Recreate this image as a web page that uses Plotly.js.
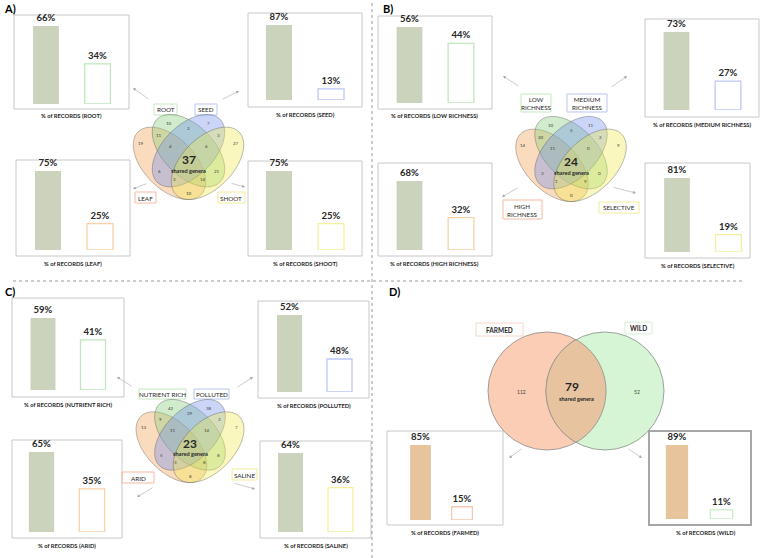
<!DOCTYPE html>
<html>
<head>
<meta charset="utf-8">
<script src="https://cdn.plot.ly/plotly-3.0.1.min.js"></script>
<style>
  html, body { margin: 0; padding: 0; background: #fff; }
  #chart { width: 760px; height: 558px; }
</style>
</head>
<body>
<div id="chart"></div>
<script>
// ---- data ----
const tissueSets = ['ROOT', 'SEED', 'LEAF', 'SHOOT'];
const tissueShares = [[66, 34], [87, 13], [75, 25], [75, 25]];
const tissueCounts = [10, 7, 2, 11, 3, 19, 27, 4, 6, 37, 6, 21, 2, 14, 10];

const richnessSets = ['LOW RICHNESS', 'MEDIUM RICHNESS', 'HIGH RICHNESS', 'SELECTIVE'];
const richnessShares = [[56, 44], [73, 27], [68, 32], [81, 19]];
const richnessCounts = [10, 11, 5, 20, 2, 14, 9, 11, 0, 24, 3, 0, 1, 9, 0];

const soilSets = ['NUTRIENT RICH', 'POLLUTED', 'ARID', 'SALINE'];
const soilShares = [[59, 41], [52, 48], [65, 35], [64, 36]];
const soilCounts = [42, 38, 29, 9, 3, 13, 7, 11, 14, 23, 5, 8, 3, 8, 8];

const originSets = ['FARMED', 'WILD'];
const originShares = [[85, 15], [89, 11]];
const originCounts = [112, 79, 52]; // farmed only, shared, wild only

// ---- page geometry (pixels) ----
const W = 760, H = 558;
const FONT = 'Lato, "Open Sans", sans-serif';
const px = x => x / W;
const py = y => 1 - y / H;

const setColors = ['#c3e8c0', '#b9c7f3', '#f4b9a3', '#f3ec98'];
const barEdges = ['#bfe8bd', '#bcc8f5', '#f9d1a8', '#f6f09c'];
const vennFills = ['rgba(135,205,120,0.38)', 'rgba(115,145,235,0.38)', 'rgba(243,160,85,0.38)', 'rgba(240,235,85,0.38)'];
const greyFill = 'rgb(204,211,189)';
const tanFill = 'rgb(232,196,156)';

// four-ellipse venn, offsets in venn units (screen y down)
const ellipses = [
  { dx: 0, dy: -0.05, rot: 45 },
  { dx: 0, dy: -0.05, rot: -45 },
  { dx: -0.15, dy: 0.05, rot: 45 },
  { dx: 0.15, dy: 0.05, rot: -45 }
];
const drawOrder = [2, 0, 1, 3];
const regionSpots = [
  [-0.155, -0.265], [0.155, -0.265], [0, -0.225], [-0.235, -0.172], [0.235, -0.172],
  [-0.375, -0.106], [0.375, -0.106], [-0.14, -0.082], [0.14, -0.082], [0, 0.02],
  [-0.228, 0.114], [0.228, 0.114], [-0.114, 0.176], [0.114, 0.176], [0, 0.286]
];

const panels = [
  { letter: 'A)', at: [2, 9], sets: tissueSets, shares: tissueShares, counts: tissueCounts,
    venn: [188.5, 157, 127],
    charts: [
      { box: [14, 15, 129, 109], bars: [46, 97.5], bottom: 104, top: 26 },
      { box: [248, 13, 362, 107], bars: [279, 331], bottom: 100, top: 25 },
      { box: [16, 160, 130, 256], bars: [48, 100], bottom: 250, top: 171 },
      { box: [248, 161, 362, 256], bars: [279, 331], bottom: 250, top: 171 }
    ],
    tags: [[154, 104, 177, 115], [195, 104, 217, 115], [135, 192, 156, 203], [218, 192, 245, 203]],
    arrows: [[150, 100, 133, 88], [221, 100, 239, 91], [148, 183, 133, 189], [230, 183, 245, 187]] },
  { letter: 'B)', at: [381, 9], sets: richnessSets, shares: richnessShares, counts: richnessCounts,
    venn: [571, 159, 127],
    charts: [
      { box: [378, 16, 492, 109], bars: [409.5, 461], bottom: 103, top: 27 },
      { box: [645, 19, 759, 117], bars: [676.5, 728], bottom: 110, top: 32 },
      { box: [378, 163, 492, 256], bars: [409.5, 461], bottom: 250, top: 181 },
      { box: [645, 163, 750, 258], bars: [677, 728.5], bottom: 252, top: 178 }
    ],
    tags: [[521, 94, 551, 112], [567, 94, 607, 112], [503, 200, 542, 219], [599, 202, 639, 213]],
    arrows: [[520, 87, 503, 76], [610, 88, 627, 76], [519, 187, 502, 197], [612, 187, 636, 193]] },
  { letter: 'C)', at: [3, 291], sets: soilSets, shares: soilShares, counts: soilCounts,
    venn: [190, 441, 124],
    charts: [
      { box: [12, 298, 124, 397], bars: [43, 93], bottom: 390, top: 318 },
      { box: [258, 301, 369, 398], bars: [289.5, 339.5], bottom: 392, top: 315, ymin: 45 },
      { box: [12, 440, 122, 538], bars: [41.5, 92], bottom: 532, top: 452 },
      { box: [260, 441, 371, 538], bars: [290.5, 340.5], bottom: 532, top: 453 }
    ],
    tags: [[139, 389, 186, 399], [194, 389, 229, 399], [122, 472, 154, 483], [232, 469, 257, 480]],
    arrows: [[133, 387, 117, 377], [236, 388, 253, 377], [154, 487, 137, 497], [233, 483, 255, 489]] }
];

const originCharts = [
  { box: [387, 431, 503, 525], bars: [420.5, 462], bottom: 520, top: 445 },
  { box: [649, 431, 751, 525], bars: [677, 721.5], bottom: 519, top: 445, heavy: true }
];
const originTags = [[476, 323, 523, 336], [625, 322, 652, 334]];
const originArrows = [[523, 448, 509, 458], [627, 448, 642, 458]];
const originEdges = ['#f9c6b0', '#c8eec8'];
const originTagColors = ['#f8d6c8', '#d3efd3'];
const circles = [[547, 391], [605, 391]];
const circleR = 59;

const traces = [];
const shapes = [];
const annotations = [];
const layout = {
  width: W, height: H,
  margin: { l: 0, r: 0, t: 0, b: 0 },
  paper_bgcolor: '#ffffff',
  plot_bgcolor: 'rgba(0,0,0,0)',
  showlegend: false,
  font: { family: FONT, color: '#262626' }
};

function text(x, y, s, size, extra) {
  annotations.push(Object.assign({
    xref: 'paper', yref: 'paper', x: px(x), y: py(y), text: s, showarrow: false,
    xanchor: 'center', yanchor: 'middle', font: { family: FONT, size: size, color: '#262626' }
  }, extra || {}));
}

function arrow(a) {
  annotations.push({
    xref: 'paper', yref: 'paper', x: px(a[2]), y: py(a[3]), text: '',
    showarrow: true, ax: a[0] - a[2], ay: a[1] - a[3], axref: 'pixel', ayref: 'pixel',
    arrowhead: 2, arrowsize: 1, arrowwidth: 0.6, arrowcolor: '#a8a8a8', standoff: 0
  });
}

function rect(b, color, width) {
  shapes.push({ type: 'rect', xref: 'paper', yref: 'paper', layer: 'below',
    x0: px(b[0]), x1: px(b[2]), y0: py(b[3]), y1: py(b[1]),
    line: { color: color, width: width }, fillcolor: 'rgba(0,0,0,0)' });
}

function tag(b, label, color) {
  rect(b, color, 1);
  text((b[0] + b[2]) / 2, (b[1] + b[3]) / 2 + 0.5, label, 6.3);
}

let axisN = 0;
function barChart(c, name, shares, fill, edge) {
  axisN++;
  const sfx = axisN === 1 ? '' : String(axisN);
  const sp = c.bars[1] - c.bars[0];
  const ymin = c.ymin || 0;
  traces.push({
    type: 'bar', x: [0, 1], y: shares.map(v => v - ymin), base: ymin,
    xaxis: 'x' + sfx, yaxis: 'y' + sfx, width: 0.5,
    marker: { color: [fill, '#ffffff'], line: { color: [fill, edge], width: [0, 1.3] } },
    text: shares.map(v => '<b>' + v + '%</b>'), textposition: 'outside',
    cliponaxis: false, constraintext: 'none',
    textfont: { family: FONT, size: 9.5, color: '#262626' },
    hoverinfo: 'skip', showlegend: false
  });
  layout['xaxis' + sfx] = { domain: [px(c.bars[0] - sp / 2), px(c.bars[1] + sp / 2)],
    range: [-0.5, 1.5], anchor: 'y' + sfx, visible: false, fixedrange: true };
  layout['yaxis' + sfx] = { domain: [py(c.bottom), py(c.top)],
    range: [ymin, Math.max(...shares)], anchor: 'x' + sfx, visible: false, fixedrange: true };
  rect(c.box, c.heavy ? '#a6a6a6' : '#c8c8c8', c.heavy ? 2 : 1);
  text((c.box[0] + c.box[2]) / 2 + (c.heavy ? 6 : 0), c.box[3] + 7,
    '<b>% of RECORDS (' + name + ')</b>', 5.8);
}

function pathOf(points) {
  return 'M' + points.map(p => px(p[0]).toFixed(5) + ',' + py(p[1]).toFixed(5)).join('L') + 'Z';
}

function quadVenn(v, counts) {
  const cx = v[0], cy = v[1], s = v[2];
  drawOrder.forEach(i => {
    const e = ellipses[i];
    const th = e.rot * Math.PI / 180;
    const pts = [];
    for (let k = 0; k < 90; k++) {
      const t = k / 90 * 2 * Math.PI;
      const a = 0.35 * Math.cos(t), b = 0.2 * Math.sin(t);
      pts.push([cx + s * (e.dx + a * Math.cos(th) - b * Math.sin(th)),
                cy + s * (e.dy + a * Math.sin(th) + b * Math.cos(th))]);
    }
    shapes.push({ type: 'path', xref: 'paper', yref: 'paper', path: pathOf(pts),
      fillcolor: vennFills[i], line: { color: 'rgba(80,80,80,0.55)', width: 0.7 } });
  });
  counts.forEach((n, i) => {
    const spot = regionSpots[i];
    if (i === 9) {
      text(cx + spot[0] * s, cy + spot[1] * s, '<b>' + n + '</b>', 12);
      text(cx, cy + 0.104 * s, '<b>shared genera</b>', 5.6);
    } else {
      text(cx + spot[0] * s, cy + spot[1] * s, String(n), 4.5, { font: { family: FONT, size: 4.5, color: '#404040' } });
    }
  });
}

panels.forEach(p => {
  text(p.at[0], p.at[1], '<b>' + p.letter + '</b>', 11, { xanchor: 'left', font: { family: FONT, size: 11, color: '#000' } });
  quadVenn(p.venn, p.counts);
  p.charts.forEach((c, i) => barChart(c, p.sets[i], p.shares[i], greyFill, barEdges[i]));
  p.tags.forEach((b, i) => tag(b, p.sets[i].replace(' RICHNESS', '<br>RICHNESS'), setColors[i]));
  p.arrows.forEach(arrow);
});

// ---- panel D: two-set venn ----
text(387, 291, '<b>D)</b>', 11, { xanchor: 'left', font: { family: FONT, size: 11, color: '#000' } });
const circleFills = ['rgb(252,205,181)', 'rgb(213,245,212)'];
circles.forEach((c, i) => {
  shapes.push({ type: 'circle', xref: 'paper', yref: 'paper',
    x0: px(c[0] - circleR), x1: px(c[0] + circleR), y0: py(c[1] + circleR), y1: py(c[1] - circleR),
    fillcolor: circleFills[i], line: { color: '#8c8c8c', width: 0.8 } });
});
const half = (circles[1][0] - circles[0][0]) / 2;
const phi = Math.acos(half / circleR);
const lens = [];
for (let k = 0; k <= 40; k++) {
  const t = -phi + 2 * phi * k / 40;
  lens.push([circles[0][0] + circleR * Math.cos(t), circles[0][1] + circleR * Math.sin(t)]);
}
for (let k = 0; k <= 40; k++) {
  const t = Math.PI - phi + 2 * phi * k / 40;
  lens.push([circles[1][0] + circleR * Math.cos(t), circles[1][1] + circleR * Math.sin(t)]);
}
shapes.push({ type: 'path', xref: 'paper', yref: 'paper', path: pathOf(lens),
  fillcolor: 'rgb(231,196,159)', line: { color: '#8c8c8c', width: 0.8 } });
text(521, 392, String(originCounts[0]), 5, { font: { family: FONT, size: 5, color: '#404040' } });
text(572, 386.5, '<b>' + originCounts[1] + '</b>', 12);
text(576, 398, '<b>shared genera</b>', 5.6);
text(637, 392, String(originCounts[2]), 5, { font: { family: FONT, size: 5, color: '#404040' } });

originCharts.forEach((c, i) => barChart(c, originSets[i], originShares[i], tanFill, originEdges[i]));
originTags.forEach((b, i) => {
  rect(b, originTagColors[i], 1);
  text((b[0] + b[2]) / 2, (b[1] + b[3]) / 2 + 0.5, '<b>' + originSets[i] + '</b>', 6.5);
});
originArrows.forEach(arrow);

// ---- dotted dividers ----
shapes.push({ type: 'line', xref: 'paper', yref: 'paper', x0: px(372), x1: px(372), y0: 0, y1: 1,
  line: { color: '#9a9a9a', width: 1, dash: 'dot' } });
shapes.push({ type: 'line', xref: 'paper', yref: 'paper', x0: px(13), x1: px(745), y0: py(281), y1: py(281),
  line: { color: '#9a9a9a', width: 1, dash: 'dot' } });

layout.shapes = shapes;
layout.annotations = annotations;

Plotly.newPlot('chart', traces, layout, { displayModeBar: false, staticPlot: true });
</script>
</body>
</html>
